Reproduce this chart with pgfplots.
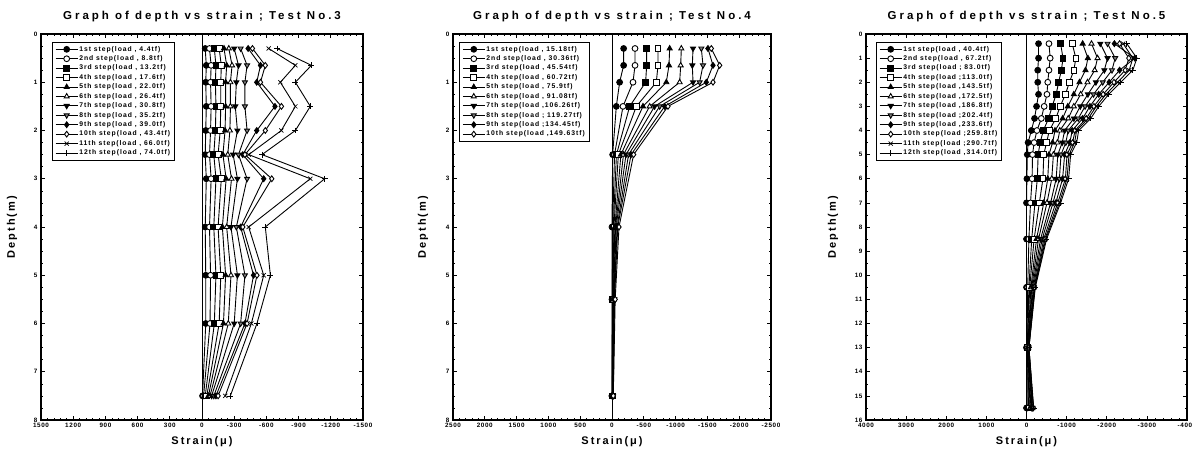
\documentclass[border=0pt]{standalone}
\usepackage{fontspec}
\setmainfont{Liberation Sans}
\newfontfamily\spaced[LetterSpace=18]{Liberation Sans}
\newfontfamily\titlefont[LetterSpace=26]{Liberation Sans}
\newfontfamily\legfont[LetterSpace=14]{Liberation Sans}
\newfontfamily\tickfont[LetterSpace=10]{Liberation Sans}
\usepackage{pgfplots}
\usepackage{pgfplotstable}
\pgfplotsset{compat=1.18}

% depth (m) vs strain (micro), one table per test
\pgfplotstableread{
d    s1   s2   s3   s4   s5   s6   s7   s8   s9   s10  s11   s12
0.3  -30  -70  -115 -160 -205 -250 -300 -360 -430 -470 -621  -699
0.65 -40  -85  -130 -180 -230 -280 -340 -420 -545 -590 -870  -1019
1.0  -35  -80  -125 -175 -220 -265 -320 -400 -510 -545 -730  -870
1.5  -40  -85  -130 -175 -220 -265 -310 -400 -680 -740 -870  -1009
2.0  -35  -80  -125 -170 -215 -260 -330 -420 -510 -590 -739  -870
2.5  -30  -70  -110 -150 -195 -240 -290 -340 -380 -400 -435  -559
3.0  -40  -85  -130 -180 -225 -275 -330 -420 -575 -650 -1009 -1143
4.0  -30  -70  -110 -150 -190 -230 -270 -320 -360 -380 -435  -590
5.0  -35  -80  -130 -175 -220 -270 -330 -400 -480 -512 -575  -637
6.0  -35  -75  -115 -160 -200 -245 -300 -360 -400 -420 -460  -512
7.5  -5   -15  -30  -45  -60  -75  -90  -110 -130 -150 -217  -264
}\tA

\pgfplotstableread{
d    s1   s2   s3   s4   s5   s6    s7    s8    s9    s10
0.3  -183 -362 -545 -723 -907 -1090 -1274 -1405 -1509 -1562
0.65 -183 -362 -545 -723 -896 -1080 -1263 -1431 -1588 -1693
1.0  -120 -330 -529 -697 -854 -1064 -1274 -1378 -1483 -1588
1.5  -68  -173 -278 -383 -487 -592  -670  -750  -828  -880
2.5  -10  -40  -70  -100 -140 -180  -220  -260  -300  -340
4.0  0    -10  -20  -30  -45  -55   -65   -80   -90   -110
5.5  0    -5   -10  -15  -20  -25   -30   -35   -40   -50
7.5  0    0    -5   -5   -10  -10   -15   -15   -20   -20
}\tB

\pgfplotstableread{
d    s1   s2   s3   s4    s5    s6    s7    s8    s9    s10   s11   s12
0.4  -300 -560 -850 -1140 -1400 -1620 -1840 -2020 -2190 -2320 -2410 -2500
1.0  -300 -590 -910 -1230 -1530 -1770 -2020 -2210 -2700 -2550 -2650 -2750
1.5  -280 -560 -870 -1180 -1470 -1700 -1940 -2130 -2320 -2460 -2560 -2650
2.0  -280 -530 -800 -1070 -1320 -1520 -1730 -1900 -2060 -2180 -2270 -2350
2.5  -300 -510 -740 -970  -1180 -1350 -1530 -1670 -1800 -1910 -1980 -2050
3.0  -250 -440 -640 -840  -1030 -1180 -1340 -1460 -1580 -1680 -1740 -1800
3.5  -200 -370 -550 -730  -900  -1040 -1180 -1290 -1400 -1490 -1540 -1600
4.0  -120 -260 -420 -570  -710  -830  -950  -1040 -1140 -1210 -1250 -1300
4.5  -40  -190 -340 -500  -650  -770  -890  -980  -1080 -1150 -1200 -1250
5.0  -20  -150 -290 -430  -560  -670  -780  -860  -950  -1010 -1060 -1100
6.0  -10  -140 -270 -410  -530  -630  -740  -820  -900  -970  -1010 -1050
7.0  0    -100 -210 -320  -430  -510  -600  -660  -730  -780  -820  -850
8.5  0    -60  -130 -190  -250  -300  -350  -390  -430  -460  -480  -500
10.5 0    -30  -60  -80   -110  -130  -150  -170  -190  -200  -210  -220
13.0 0    -10  -20  -20   -30   -40   -40   -50   -50   -60   -60   -60
15.5 0    -20  -50  -70   -90   -110  -130  -140  -150  -170  -170  -180
}\tC

\pgfplotsset{
  base/.style={black, line width=0.9pt, mark size=2.9pt, mark options={solid, line width=0.7pt}},
  st1/.style={base, mark=*, mark options={fill=black}},
  st2/.style={base, mark=*, mark options={fill=white}},
  st3/.style={base, mark=square*, mark options={fill=black}},
  st4/.style={base, mark=square*, mark options={fill=white}},
  st5/.style={base, mark=triangle*, mark options={fill=black}},
  st6/.style={base, mark=triangle*, mark options={fill=white}},
  st7/.style={base, mark=triangle*, mark options={fill=black, rotate=180}},
  st8/.style={base, mark=triangle*, mark options={fill=gray, rotate=180}},
  st9/.style={base, mark=diamond*, mark options={fill=black}},
  st10/.style={base, mark=diamond*, mark options={fill=white}},
  st11/.style={base, mark=x},
  st12/.style={base, mark=+},
  panel/.style={
    scale only axis, height=386pt,
    x dir=reverse, y dir=reverse,
    ymin=0,
    axis line style={line width=1.5pt},
    tick style={black, line width=0.6pt},
    major tick length=4pt, minor tick length=2pt,
    minor x tick num=4, minor y tick num=3,
    tick label style={font=\tickfont\bfseries\fontsize{6.3}{7}\selectfont},
    /pgf/number format/assume math mode=true,
    /pgf/number format/1000 sep={},
    title style={font=\titlefont\bfseries\fontsize{11.5}{12}\selectfont, at={(0.5,1)}, anchor=south, yshift=3pt},
    xlabel={Strain(μ)}, ylabel={Depth(m)},
    label style={font=\spaced\bfseries\fontsize{11}{12}\selectfont},
    xlabel style={at={(axis description cs:0.5,0)}, anchor=north, yshift=-13pt},
    legend cell align=left,
    legend style={anchor=north west, draw=black, line width=0.6pt, fill=white,
      font=\legfont\bfseries\fontsize{6.8}{7}\selectfont, row sep=0.6pt,
      nodes={inner sep=1.2pt}, inner xsep=3pt, inner ysep=2.5pt},
    legend image code/.code={\draw[mark repeat=2,mark phase=2] plot coordinates {(0pt,0pt) (11pt,0pt) (22pt,0pt)};},
  },
}

\begin{document}
\begin{tikzpicture}
\path[use as bounding box] (0pt,0pt) rectangle (1192pt,453pt);

% ---------------- Test No.3
\begin{axis}[panel, at={(41pt,33pt)}, anchor=south west, width=322pt,
  title={Graph of depth vs strain ; Test No.3},
  xmin=-1500, xmax=1500, ymax=8,
  xtick={-1500,-1200,-900,-600,-300,0,300,600,900,1200,1500},
  ytick={0,...,8},
  ylabel style={at={(axis description cs:-0.09,0.5)}, anchor=center},
  legend style={at={(0.034,0.979)}}]
  \addplot[black, line width=0.6pt, forget plot] coordinates {(0,0) (0,8)};
  \addplot[st1] table[x=s1,y=d] {\tA}; \addlegendentry{1st step(load , 4.4tf)}
  \addplot[st2] table[x=s2,y=d] {\tA}; \addlegendentry{2nd step(load , 8.8tf)}
  \addplot[st3] table[x=s3,y=d] {\tA}; \addlegendentry{3rd step(load , 13.2tf)}
  \addplot[st4] table[x=s4,y=d] {\tA}; \addlegendentry{4th step(load , 17.6tf)}
  \addplot[st5] table[x=s5,y=d] {\tA}; \addlegendentry{5th step(load , 22.0tf)}
  \addplot[st6] table[x=s6,y=d] {\tA}; \addlegendentry{6th step(load , 26.4tf)}
  \addplot[st7] table[x=s7,y=d] {\tA}; \addlegendentry{7th step(load , 30.8tf)}
  \addplot[st8] table[x=s8,y=d] {\tA}; \addlegendentry{8th step(load , 35.2tf)}
  \addplot[st9] table[x=s9,y=d] {\tA}; \addlegendentry{9th step(load , 39.0tf)}
  \addplot[st10] table[x=s10,y=d] {\tA}; \addlegendentry{10th step(load , 43.4tf)}
  \addplot[st11] table[x=s11,y=d] {\tA}; \addlegendentry{11th step(load , 66.0tf)}
  \addplot[st12] table[x=s12,y=d] {\tA}; \addlegendentry{12th step(load , 74.0tf)}
\end{axis}

% ---------------- Test No.4
\begin{axis}[panel, at={(453pt,33pt)}, anchor=south west, width=318pt,
  title={Graph of depth vs strain ; Test No.4},
  xmin=-2500, xmax=2500, ymax=8,
  xtick={-2500,-2000,...,2500},
  ytick={0,...,8},
  ylabel style={at={(axis description cs:-0.094,0.5)}, anchor=center},
  legend style={at={(0.019,0.979)}},
  every axis plot/.append style={mark size=3.3pt}]
  \addplot[black, line width=0.6pt, forget plot] coordinates {(0,0) (0,8)};
  \addplot[st1] table[x=s1,y=d] {\tB}; \addlegendentry{1st step(load , 15.18tf)}
  \addplot[st2] table[x=s2,y=d] {\tB}; \addlegendentry{2nd step(load , 30.36tf)}
  \addplot[st3] table[x=s3,y=d] {\tB}; \addlegendentry{3rd step(load , 45.54tf)}
  \addplot[st4] table[x=s4,y=d] {\tB}; \addlegendentry{4th step(load , 60.72tf)}
  \addplot[st5] table[x=s5,y=d] {\tB}; \addlegendentry{5th step(load , 75.9tf)}
  \addplot[st6] table[x=s6,y=d] {\tB}; \addlegendentry{6th step(load , 91.08tf)}
  \addplot[st7] table[x=s7,y=d] {\tB}; \addlegendentry{7th step(load ,106.26tf)}
  \addplot[st8] table[x=s8,y=d] {\tB}; \addlegendentry{8th step(load ; 119.27tf)}
  \addplot[st9] table[x=s9,y=d] {\tB}; \addlegendentry{9th step(load ;134.45tf)}
  \addplot[st10] table[x=s10,y=d] {\tB}; \addlegendentry{10th step(load ,149.63tf)}
\end{axis}

% ---------------- Test No.5
\begin{axis}[panel, at={(866pt,33pt)}, anchor=south west, width=321pt,
  title={Graph of depth vs strain ; Test No.5},
  xmin=-4000, xmax=4000, ymax=16,
  xtick={-4000,-3000,...,4000},
  ytick={0,...,16}, minor y tick num=1,
  ylabel style={at={(axis description cs:-0.103,0.5)}, anchor=center},
  legend style={at={(0.031,0.979)}}]
  \addplot[black, line width=0.6pt, forget plot] coordinates {(0,0) (0,16)};
  \addplot[st1] table[x=s1,y=d] {\tC}; \addlegendentry{1st step(load , 40.4tf)}
  \addplot[st2] table[x=s2,y=d] {\tC}; \addlegendentry{2nd step(load , 67.2tf)}
  \addplot[st3] table[x=s3,y=d] {\tC}; \addlegendentry{3rd step(load ; 83.0tf)}
  \addplot[st4] table[x=s4,y=d] {\tC}; \addlegendentry{4th step(load ;113.0tf)}
  \addplot[st5] table[x=s5,y=d] {\tC}; \addlegendentry{5th step(load ,143.5tf)}
  \addplot[st6] table[x=s6,y=d] {\tC}; \addlegendentry{6th step(load ,172.5tf)}
  \addplot[st7] table[x=s7,y=d] {\tC}; \addlegendentry{7th step(load ,186.8tf)}
  \addplot[st8] table[x=s8,y=d] {\tC}; \addlegendentry{8th step(load ;202.4tf)}
  \addplot[st9] table[x=s9,y=d] {\tC}; \addlegendentry{9th step(load ,233.6tf)}
  \addplot[st10] table[x=s10,y=d] {\tC}; \addlegendentry{10th step(load ;259.8tf)}
  \addplot[st11] table[x=s11,y=d] {\tC}; \addlegendentry{11th step(load ;290.7tf)}
  \addplot[st12] table[x=s12,y=d] {\tC}; \addlegendentry{12th step(load ,314.0tf)}
\end{axis}
\end{tikzpicture}
\end{document}
